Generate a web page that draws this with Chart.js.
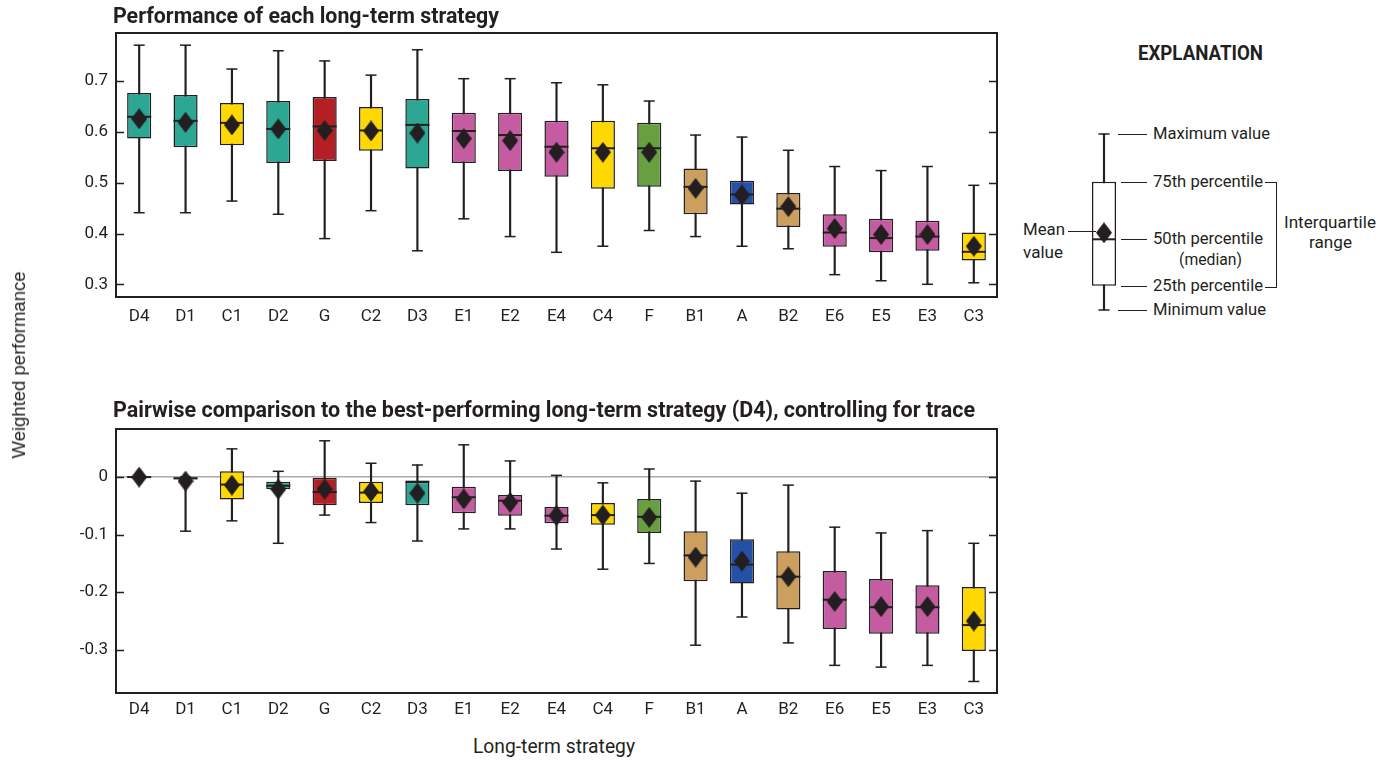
<!DOCTYPE html>
<html lang="en">
<head>
<meta charset="UTF-8">
<title>Long-term strategy performance</title>
<script src="https://cdn.jsdelivr.net/npm/chart.js"></script>
<style>
  html, body { margin: 0; padding: 0; background: #fff; }
  body { width: 1388px; height: 761px; position: relative; overflow: hidden; color: #231f20; }
  .box { position: absolute; }
  .txt { position: absolute; white-space: nowrap; line-height: 1; transform-origin: 0 50%; }
  .rule { position: absolute; border-top: 1.3px solid #231f20; height: 0; }
</style>
</head>
<body>
<div class="box" style="left:0;top:0;width:1000px;height:330px"><canvas id="top"></canvas></div>
<div class="box" style="left:0;top:396px;width:1000px;height:330px"><canvas id="bottom"></canvas></div>
<div class="box" style="left:1080px;top:120px;width:48px;height:200px"><canvas id="key"></canvas></div>
<div id="labels"></div>
<script>
// strategies in the order shown
const strategies = ['D4','D1','C1','D2','G','C2','D3','E1','E2','E4','C4','F','B1','A','B2','E6','E5','E3','C3'];

// top panel: weighted performance
const perfMin  = [0.441,0.441,0.464,0.438,0.390,0.445,0.366,0.429,0.394,0.363,0.375,0.406,0.394,0.375,0.370,0.319,0.307,0.300,0.303];
const perfQ1   = [0.587,0.570,0.574,0.539,0.543,0.563,0.528,0.539,0.523,0.512,0.488,0.492,0.438,0.457,0.413,0.374,0.363,0.366,0.347];
const perfMed  = [0.630,0.622,0.618,0.606,0.611,0.603,0.614,0.602,0.594,0.571,0.568,0.568,0.492,0.477,0.449,0.402,0.391,0.394,0.364];
const perfQ3   = [0.677,0.673,0.657,0.661,0.669,0.649,0.665,0.638,0.638,0.622,0.622,0.618,0.528,0.504,0.480,0.438,0.429,0.425,0.402];
const perfMax  = [0.771,0.771,0.724,0.760,0.740,0.712,0.762,0.705,0.705,0.697,0.693,0.661,0.594,0.590,0.564,0.532,0.524,0.532,0.495];
const perfMean = [0.626,0.619,0.614,0.606,0.603,0.602,0.598,0.587,0.583,0.560,0.560,0.560,0.489,0.476,0.453,0.410,0.398,0.398,0.375];

// bottom panel: difference from D4
const diffMin  = [0,-0.094,-0.076,-0.115,-0.066,-0.079,-0.111,-0.090,-0.090,-0.125,-0.160,-0.150,-0.292,-0.243,-0.288,-0.327,-0.330,-0.327,-0.355];
const diffQ1   = [0,-0.004,-0.039,-0.021,-0.049,-0.045,-0.049,-0.063,-0.067,-0.080,-0.083,-0.097,-0.181,-0.185,-0.230,-0.264,-0.272,-0.272,-0.302];
const diffMed  = [0,-0.002,-0.013,-0.015,-0.026,-0.027,-0.008,-0.035,-0.041,-0.067,-0.066,-0.069,-0.136,-0.152,-0.173,-0.213,-0.226,-0.226,-0.257];
const diffQ3   = [0,0.000,0.010,-0.008,0.000,-0.008,-0.008,-0.017,-0.031,-0.052,-0.045,-0.038,-0.094,-0.108,-0.129,-0.163,-0.177,-0.188,-0.191];
const diffMax  = [0,0.000,0.049,0.010,0.063,0.024,0.021,0.056,0.028,0.003,-0.010,0.014,-0.007,-0.028,-0.014,-0.087,-0.097,-0.093,-0.115];
const diffMean = [0,-0.007,-0.014,-0.021,-0.021,-0.025,-0.028,-0.038,-0.044,-0.067,-0.066,-0.070,-0.139,-0.146,-0.173,-0.216,-0.225,-0.225,-0.250];

// explanation box (unitless)
const keyMin = [0.05], keyQ1 = [0.1715], keyMed = [0.4035], keyQ3 = [0.6915], keyMax = [0.93], keyMean = [0.4365];

const groupColor = { D: '#2ba794', C: '#fed800', G: '#b31f24', E: '#c55ca2', F: '#68a040', B: '#cd9f5f', A: '#2451a5' };
const ink = '#231f20';

function hasFont(name) {
  const c = document.createElement('canvas').getContext('2d');
  const s = 'abcdefghijklmnopqrstuvwxyz0123456789ABCDEFG';
  c.font = '40px monospace';
  const a = c.measureText(s).width;
  c.font = '40px "' + name + '", monospace';
  return c.measureText(s).width !== a;
}
const narrow = hasFont('Liberation Sans Narrow') ? 'Liberation Sans Narrow' : 'Roboto';
const tickSize = narrow === 'Roboto' ? 17 : 18;

// diamond marker for the mean
const diamond = document.createElement('canvas');
diamond.width = 16; diamond.height = 21;
(function () {
  const c = diamond.getContext('2d');
  c.fillStyle = ink;
  c.beginPath();
  c.moveTo(8, 0); c.lineTo(16, 10.5); c.lineTo(8, 21); c.lineTo(0, 10.5);
  c.closePath(); c.fill();
})();

function marks(data, radius, width, order) {
  return { type: 'line', data: data, showLine: false, pointStyle: 'line', pointRadius: radius,
    pointBorderWidth: width, pointBorderColor: ink, pointBackgroundColor: ink, order: order };
}

function boxDatasets(mins, q1s, meds, q3s, maxs, means, fills, barPct) {
  return [
    { type: 'bar', data: mins.map((v, i) => [v, maxs[i]]), backgroundColor: ink,
      barThickness: 1.5, grouped: false, order: 5 },
    { type: 'bar', data: q1s.map((v, i) => [v, q3s[i]]), backgroundColor: fills, borderColor: ink,
      borderWidth: 1.5, borderSkipped: false, barPercentage: barPct, categoryPercentage: 1,
      grouped: false, order: 4 },
    marks(maxs, 5.5, 1.5, 3),
    marks(mins, 5.5, 1.5, 3),
    marks(meds, 12, 2, 2),
    { type: 'line', data: means, showLine: false, pointStyle: diamond, pointRadius: 10, order: 1 }
  ];
}

// plot frame and inward ticks on both sides
const framePlugin = {
  id: 'frame',
  afterDatasetsDraw(chart) {
    const ctx = chart.ctx, a = chart.chartArea, y = chart.scales.y;
    ctx.save();
    ctx.strokeStyle = ink;
    ctx.lineWidth = 1.5;
    y.ticks.forEach(t => {
      const p = Math.round(y.getPixelForValue(t.value)) + 0.5;
      ctx.beginPath();
      ctx.moveTo(a.left, p); ctx.lineTo(a.left + 8, p);
      ctx.moveTo(a.right - 8, p); ctx.lineTo(a.right, p);
      ctx.stroke();
    });
    ctx.lineWidth = 2;
    ctx.strokeRect(a.left, a.top, a.right - a.left, a.bottom - a.top);
    ctx.restore();
  }
};

function fmt(v) { return Math.abs(v) < 1e-9 ? '0' : v.toFixed(1); }

function panel(id, stats, yMin, yMax, zeroLine, xPad) {
  const fills = strategies.map(s => groupColor[s[0]]);
  new Chart(document.getElementById(id), {
    type: 'bar',
    data: { labels: strategies, datasets: boxDatasets(...stats, fills, 0.52) },
    options: {
      responsive: true, maintainAspectRatio: false, animation: false, events: [],
      layout: { autoPadding: false, padding: { top: 33, right: 3, left: 0, bottom: 0 } },
      plugins: { legend: { display: false }, tooltip: { enabled: false } },
      scales: {
        x: {
          grid: { display: false, drawTicks: false }, border: { display: false },
          ticks: { padding: xPad, color: ink, font: { family: narrow, size: tickSize } },
          afterFit: s => { s.height = 33; }
        },
        y: {
          min: yMin, max: yMax,
          border: { display: false },
          grid: {
            display: zeroLine, drawTicks: false, lineWidth: 1.5,
            color: c => (c.tick && Math.abs(c.tick.value) < 1e-9) ? '#aaaaaa' : 'rgba(0,0,0,0)'
          },
          ticks: { stepSize: 0.1, includeBounds: false, padding: 8, color: ink,
            font: { family: narrow, size: tickSize }, callback: v => fmt(v) },
          afterFit: s => { s.width = 116; }
        }
      }
    },
    plugins: [framePlugin]
  });
}

panel('top', [perfMin, perfQ1, perfMed, perfQ3, perfMax, perfMean], 0.275, 0.795, false, 10);
panel('bottom', [diffMin, diffQ1, diffMed, diffQ3, diffMax, diffMean], -0.375, 0.0835, true, 7);

new Chart(document.getElementById('key'), {
  type: 'bar',
  data: { labels: [''], datasets: boxDatasets(keyMin, keyQ1, keyMed, keyQ3, keyMax, keyMean, ['#ffffff'], 0.5) },
  options: {
    responsive: true, maintainAspectRatio: false, animation: false, events: [],
    layout: { autoPadding: false, padding: 0 },
    plugins: { legend: { display: false }, tooltip: { enabled: false } },
    scales: { x: { display: false }, y: { display: false, min: 0, max: 1 } }
  }
});

// text: x, y = centre of the capitals, w = target width
const labels = document.getElementById('labels');
function text(str, x, y, size, w, opt) {
  opt = opt || {};
  const el = document.createElement('div');
  el.className = 'txt';
  el.textContent = str;
  el.style.fontFamily = opt.family || ('"' + narrow + '", sans-serif');
  el.style.fontSize = size + 'px';
  el.style.fontWeight = opt.bold ? 'bold' : 'normal';
  labels.appendChild(el);
  const nat = el.getBoundingClientRect().width;
  const k = w / nat;
  if (opt.rotate) {
    el.style.transformOrigin = '50% 50%';
    el.style.left = x + 'px';
    el.style.top = y + 'px';
    el.style.transform = 'translate(-50%,-50%) rotate(-90deg) scaleX(' + k + ')';
    return;
  }
  el.style.left = (opt.center ? x - w / 2 : x) + 'px';
  el.style.top = y + 'px';
  el.style.transform = 'translateY(-50%) scaleX(' + k + ')';
}
function rule(x1, x2, y) {
  const el = document.createElement('div');
  el.className = 'rule';
  el.style.left = x1 + 'px'; el.style.width = (x2 - x1) + 'px'; el.style.top = y + 'px';
  labels.appendChild(el);
}

text('Performance of each long-term strategy', 113, 15.7, 22, 386, { bold: true });
text('Pairwise comparison to the best-performing long-term strategy (D4), controlling for trace', 113, 410, 22, 862, { bold: true });
text('Weighted performance', 18.5, 365, 18, 187, { rotate: true, family: '"Liberation Sans", Arial, sans-serif' });
text('Long-term strategy', 554, 745.5, 20, 162, { center: true });

text('EXPLANATION', 1200, 52.5, 21, 125, { bold: true, center: true });
text('Maximum value', 1153, 134, 16.5, 117);
text('75th percentile', 1153, 181.7, 16.5, 110);
text('50th percentile', 1153, 239.3, 16.5, 110);
text('(median)', 1210, 259.5, 16.5, 63, { center: true });
text('25th percentile', 1153, 285.5, 16.5, 110);
text('Minimum value', 1153, 310, 16.5, 113);
text('Interquartile', 1330, 222.7, 16.5, 92, { center: true });
text('range', 1330, 243.3, 16.5, 43, { center: true });
text('Mean', 1023.3, 230, 16.5, 42);
text('value', 1023.3, 252.7, 16.5, 40);

rule(1118, 1147, 134);
rule(1121, 1147, 181.7);
rule(1121, 1147, 239.3);
rule(1121, 1147, 285.7);
rule(1118, 1147, 310);
rule(1068, 1096, 230.7);
const br = document.createElement('div');
br.style.cssText = 'position:absolute;left:1265px;top:181.7px;width:11px;height:104px;' +
  'border:1.3px solid #231f20;border-left:none;';
labels.appendChild(br);
</script>
</body>
</html>
